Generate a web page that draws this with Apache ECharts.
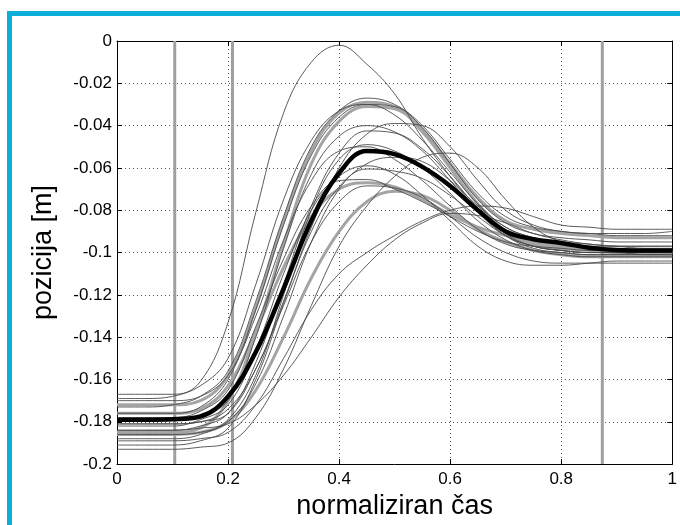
<!DOCTYPE html>
<html><head><meta charset="utf-8">
<script src="https://cdn.jsdelivr.net/npm/echarts@6/dist/echarts.min.js"></script>
<style>html,body{margin:0;padding:0;background:#fff;}#c{width:680px;height:525px;}</style>
</head><body><div id="c"></div>
<script>
const xs = [0,0.05,0.1,0.15,0.2,0.25,0.3,0.35,0.4,0.45,0.5,0.55,0.6,0.65,0.7,0.75,0.8,0.85,0.9,0.95,1];
const phaseLines = [0.104, 0.208, 0.874];
const xTicks = [0,0.2,0.4,0.6,0.8,1];
const yTicks = [0,-0.02,-0.04,-0.06,-0.08,-0.1,-0.12,-0.14,-0.16,-0.18,-0.2];

const thin1 = [-0.169,-0.169,-0.168,-0.161,-0.133,-0.081,-0.034,-0.010,-0.002,-0.011,-0.025,-0.046,-0.064,-0.080,-0.092,-0.098,-0.100,-0.101,-0.101,-0.101,-0.101];
const thin2 = [-0.173,-0.173,-0.172,-0.168,-0.156,-0.123,-0.083,-0.050,-0.033,-0.027,-0.030,-0.040,-0.056,-0.072,-0.083,-0.088,-0.090,-0.091,-0.091,-0.091,-0.090];
const thin3 = [-0.176,-0.176,-0.176,-0.173,-0.160,-0.127,-0.087,-0.054,-0.036,-0.030,-0.031,-0.041,-0.058,-0.075,-0.086,-0.091,-0.093,-0.094,-0.095,-0.095,-0.095];
const thin4 = [-0.181,-0.181,-0.181,-0.180,-0.174,-0.155,-0.123,-0.088,-0.060,-0.044,-0.039,-0.040,-0.050,-0.066,-0.080,-0.087,-0.090,-0.091,-0.092,-0.092,-0.092];
const thin5 = [-0.184,-0.184,-0.184,-0.182,-0.176,-0.152,-0.115,-0.078,-0.053,-0.0425,-0.0435,-0.051,-0.064,-0.079,-0.091,-0.097,-0.099,-0.100,-0.100,-0.100,-0.100];
const thin6 = [-0.179,-0.179,-0.179,-0.177,-0.170,-0.140,-0.098,-0.063,-0.045,-0.040,-0.043,-0.052,-0.066,-0.081,-0.092,-0.097,-0.099,-0.100,-0.100,-0.101,-0.101];
const thin7 = [-0.188,-0.188,-0.188,-0.186,-0.179,-0.158,-0.120,-0.080,-0.056,-0.049,-0.052,-0.060,-0.072,-0.085,-0.094,-0.099,-0.101,-0.102,-0.102,-0.102,-0.102];
const thin8 = [-0.170,-0.170,-0.170,-0.168,-0.158,-0.130,-0.094,-0.066,-0.052,-0.050,-0.056,-0.066,-0.078,-0.089,-0.096,-0.099,-0.100,-0.101,-0.101,-0.101,-0.101];
const thin9 = [-0.186,-0.186,-0.186,-0.185,-0.180,-0.162,-0.130,-0.095,-0.070,-0.058,-0.055,-0.057,-0.066,-0.078,-0.088,-0.093,-0.096,-0.097,-0.097,-0.097,-0.097];
const thin10 = [-0.191,-0.191,-0.191,-0.189,-0.183,-0.160,-0.124,-0.090,-0.069,-0.0605,-0.0615,-0.065,-0.073,-0.083,-0.092,-0.097,-0.099,-0.100,-0.100,-0.100,-0.100];
const thin11 = [-0.193,-0.193,-0.193,-0.192,-0.190,-0.178,-0.155,-0.125,-0.097,-0.078,-0.064,-0.055,-0.053,-0.060,-0.075,-0.088,-0.095,-0.098,-0.099,-0.099,-0.099];
const thin12 = [-0.178,-0.178,-0.178,-0.175,-0.165,-0.135,-0.103,-0.078,-0.066,-0.0655,-0.070,-0.076,-0.083,-0.090,-0.095,-0.097,-0.098,-0.099,-0.099,-0.099,-0.099];
const thin13 = [-0.181,-0.181,-0.181,-0.180,-0.176,-0.155,-0.125,-0.095,-0.076,-0.0685,-0.0695,-0.074,-0.083,-0.093,-0.100,-0.104,-0.105,-0.105,-0.105,-0.105,-0.105];
const thin14 = [-0.189,-0.189,-0.189,-0.188,-0.185,-0.172,-0.150,-0.127,-0.110,-0.100,-0.092,-0.085,-0.080,-0.078,-0.079,-0.083,-0.087,-0.088,-0.089,-0.089,-0.089];
const thin15 = [-0.184,-0.184,-0.184,-0.183,-0.181,-0.172,-0.158,-0.140,-0.121,-0.106,-0.094,-0.086,-0.0815,-0.0825,-0.086,-0.091,-0.094,-0.096,-0.097,-0.098,-0.098];
const thin16 = [-0.182,-0.182,-0.182,-0.179,-0.172,-0.146,-0.110,-0.080,-0.064,-0.059,-0.063,-0.073,-0.085,-0.097,-0.104,-0.106,-0.106,-0.105,-0.104,-0.104,-0.104];
const thin17 = [-0.167,-0.167,-0.167,-0.163,-0.150,-0.115,-0.075,-0.047,-0.033,-0.030,-0.035,-0.047,-0.062,-0.077,-0.088,-0.093,-0.095,-0.096,-0.097,-0.097,-0.097];

const gray1 = [-0.172,-0.172,-0.172,-0.170,-0.158,-0.126,-0.085,-0.052,-0.034,-0.029,-0.031,-0.042,-0.058,-0.074,-0.085,-0.089,-0.091,-0.092,-0.093,-0.093,-0.093];
const gray2 = [-0.185,-0.185,-0.185,-0.183,-0.170,-0.138,-0.096,-0.058,-0.038,-0.031,-0.032,-0.043,-0.060,-0.077,-0.090,-0.096,-0.098,-0.099,-0.100,-0.100,-0.100];
const gray3 = [-0.176,-0.176,-0.176,-0.174,-0.163,-0.137,-0.107,-0.083,-0.070,-0.067,-0.069,-0.075,-0.082,-0.088,-0.092,-0.095,-0.097,-0.098,-0.099,-0.100,-0.100];
const gray4 = [-0.186,-0.186,-0.186,-0.185,-0.180,-0.165,-0.140,-0.112,-0.090,-0.076,-0.071,-0.073,-0.080,-0.089,-0.095,-0.099,-0.101,-0.102,-0.102,-0.102,-0.102];

const meanCurve = [-0.179,-0.179,-0.1788,-0.1775,-0.168,-0.147,-0.117,-0.085,-0.0625,-0.052,-0.0535,-0.0595,-0.0685,-0.080,-0.090,-0.0937,-0.0955,-0.0977,-0.0988,-0.099,-0.099];

const thinCurves = [thin1,thin2,thin3,thin4,thin5,thin6,thin7,thin8,thin9,thin10,thin11,thin12,thin13,thin14,thin15,thin16,thin17];
const grayCurves = [gray1,gray2,gray3,gray4];

const FONT = 'Liberation Sans, Arial, Helvetica, sans-serif';
const pair = ys => xs.map((x,i)=>[x, ys[i]]);
const series = [];
thinCurves.forEach(c => series.push({type:'line', data:pair(c), smooth:0.4, symbol:'none', silent:true,
  lineStyle:{color:'#4a4a4a', width:0.9}, z:3}));
grayCurves.forEach(c => series.push({type:'line', data:pair(c), smooth:0.4, symbol:'none', silent:true,
  lineStyle:{color:'#a4a4a4', width:3}, z:2}));
phaseLines.forEach(v => series.push({type:'line', data:[[v,0],[v,-0.2]], symbol:'none', silent:true,
  lineStyle:{color:'#a0a0a0', width:3}, z:2}));
series.push({type:'line', data:pair(meanCurve), smooth:0.4, symbol:'none', silent:true,
  lineStyle:{color:'#000', width:4.5}, z:5});

const fmtY = v => v === 0 ? '0' : String(Number(v.toFixed(2)));
const fmtX = v => String(Number(v.toFixed(1)));

const chart = echarts.init(document.getElementById('c'), null, {renderer:'canvas'});
chart.setOption({
  animation:false,
  backgroundColor:'#fff',
  graphic:[{type:'rect', shape:{x:9.5, y:13.5, width:800, height:800},
    style:{fill:'none', stroke:'#0aaed8', lineWidth:5}, z:100}],
  grid:{left:117, right:7, top:41, bottom:58, show:false},
  xAxis:[{type:'value', min:0, max:1, interval:0.2, position:'bottom',
    name:'normaliziran čas', nameLocation:'middle', nameGap:25,
    nameTextStyle:{fontFamily:FONT, fontSize:27, color:'#000'},
    axisLine:{show:true, onZero:false, lineStyle:{color:'#000', width:1}},
    axisTick:{show:true, inside:true, length:5, lineStyle:{color:'#000'}},
    axisLabel:{fontFamily:FONT, fontSize:17, color:'#000', margin:7, formatter:fmtX},
    splitLine:{show:true, lineStyle:{color:'#555', width:1, type:[1,3]}}},
   {type:'value', min:0, max:1, interval:0.2, position:'top',
    axisLine:{show:true, onZero:false, lineStyle:{color:'#000', width:1}},
    axisTick:{show:true, inside:true, length:5, lineStyle:{color:'#000'}},
    axisLabel:{show:false}, splitLine:{show:false}}],
  yAxis:[{type:'value', min:-0.2, max:0, interval:0.02, position:'left',
    name:'pozicija [m]', nameLocation:'middle', nameGap:60,
    nameTextStyle:{fontFamily:FONT, fontSize:27, color:'#000'},
    axisLine:{show:true, onZero:false, lineStyle:{color:'#000', width:1}},
    axisTick:{show:true, inside:true, length:5, lineStyle:{color:'#000'}},
    axisLabel:{fontFamily:FONT, fontSize:17, color:'#000', margin:5, formatter:fmtY},
    splitLine:{show:true, lineStyle:{color:'#555', width:1, type:[1,3]}}},
   {type:'value', min:-0.2, max:0, interval:0.02, position:'right',
    axisLine:{show:true, onZero:false, lineStyle:{color:'#000', width:1}},
    axisTick:{show:true, inside:true, length:5, lineStyle:{color:'#000'}},
    axisLabel:{show:false}, splitLine:{show:false}}],
  series: series
});
</script>
</body></html>
